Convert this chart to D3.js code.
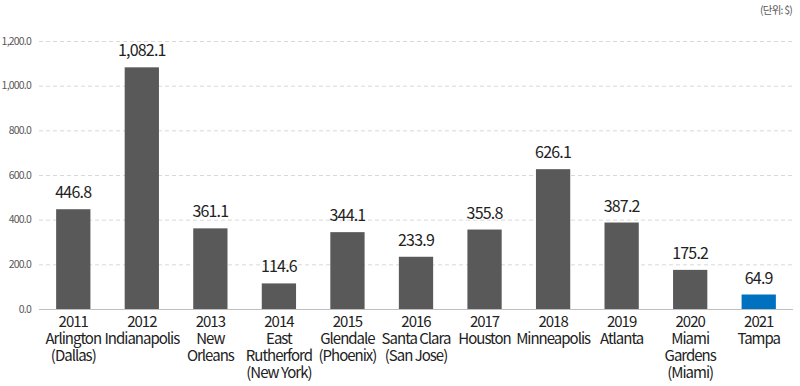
<!DOCTYPE html>
<html>
<head>
<meta charset="utf-8">
<script src="https://cdn.jsdelivr.net/npm/d3@7"></script>
<style>
  body { margin: 0; background: #fff; }
  svg { display: block; }
</style>
</head>
<body>
<div id="chart"></div>
<script>
var years = ['2011', '2012', '2013', '2014', '2015', '2016', '2017', '2018', '2019', '2020', '2021'];
var cities = [
    ['Arlington', '(Dallas)'],
    ['Indianapolis'],
    ['New', 'Orleans'],
    ['East', 'Rutherford', '(New York)'],
    ['Glendale', '(Phoenix)'],
    ['Santa Clara', '(San Jose)'],
    ['Houston'],
    ['Minneapolis'],
    ['Atlanta'],
    ['Miami', 'Gardens', '(Miami)'],
    ['Tampa']
];
var values = [446.8, 1082.1, 361.1, 114.6, 344.1, 233.9, 355.8, 626.1, 387.2, 175.2, 64.9];
var yTicks = [0, 200, 400, 600, 800, 1000, 1200];
var highlight = '2021';

var width = 800, height = 386;
var plotLeft = 39, plotRight = 793, plotTop = 41, plotBottom = 309;
var font = "'Noto Sans CJK KR', 'Noto Sans', sans-serif";

var svg = d3.select('#chart').append('svg')
    .attr('width', width)
    .attr('height', height);

var x = d3.scaleBand().domain(years).range([plotLeft, plotRight]).paddingInner(0.5).paddingOuter(0.25);
var y = d3.scaleLinear().domain([0, 1200]).range([plotBottom, plotTop]);

// gridlines
svg.append('g').selectAll('line')
    .data(yTicks.slice(1))
    .enter().append('line')
    .attr('x1', plotLeft).attr('x2', plotRight)
    .attr('y1', function (d) { return y(d) + 0.5; })
    .attr('y2', function (d) { return y(d) + 0.5; })
    .attr('stroke', '#d9d9d9')
    .attr('stroke-dasharray', '4,3');

// y tick labels
svg.append('g').selectAll('text')
    .data(yTicks)
    .enter().append('text')
    .attr('x', 31)
    .attr('y', function (d) { return y(d); })
    .attr('dy', '0.35em')
    .attr('text-anchor', 'end')
    .attr('font-family', font)
    .attr('font-size', 10.5)
    .attr('letter-spacing', '-0.8px')
    .attr('fill', '#595959')
    .text(function (d) { return d3.format(',.1f')(d); });

// bars
svg.append('g').selectAll('rect')
    .data(values)
    .enter().append('rect')
    .attr('x', function (d, i) { return x(years[i]); })
    .attr('y', function (d) { return y(d); })
    .attr('width', x.bandwidth())
    .attr('height', function (d) { return plotBottom - y(d); })
    .attr('fill', function (d, i) { return years[i] === highlight ? '#0070c0' : '#595959'; });

// axis line
svg.append('line')
    .attr('x1', plotLeft).attr('x2', plotRight)
    .attr('y1', plotBottom + 0.5).attr('y2', plotBottom + 0.5)
    .attr('stroke', '#bfbfbf');

// value labels
svg.append('g').selectAll('text')
    .data(values)
    .enter().append('text')
    .attr('x', function (d, i) { return x(years[i]) + x.bandwidth() / 2; })
    .attr('y', function (d) { return y(d) - 11; })
    .attr('text-anchor', 'middle')
    .attr('font-family', font)
    .attr('font-size', 16)
    .attr('letter-spacing', '-0.8px')
    .attr('fill', '#222')
    .text(function (d) { return d3.format(',.1f')(d); });

// category labels, one tspan per line
var cat = svg.append('g').selectAll('text')
    .data(years)
    .enter().append('text')
    .attr('x', function (d) { return x(d) + x.bandwidth() / 2; })
    .attr('y', 327)
    .attr('text-anchor', 'middle')
    .attr('font-family', font)
    .attr('font-size', 15)
    .attr('letter-spacing', '-1px')
    .attr('fill', '#222');

cat.each(function (d, i) {
    var t = d3.select(this);
    var lines = [d].concat(cities[i]);
    lines.forEach(function (line, j) {
        t.append('tspan')
            .attr('x', x(d) + x.bandwidth() / 2)
            .attr('dy', j === 0 ? 0 : 17)
            .text(line);
    });
});

// unit
svg.append('text')
    .attr('x', 792)
    .attr('y', 14)
    .attr('text-anchor', 'end')
    .attr('font-family', font)
    .attr('font-size', 10.5)
    .attr('letter-spacing', '-0.8px')
    .attr('fill', '#595959')
    .text('(단위: $)');
</script>
</body>
</html>
